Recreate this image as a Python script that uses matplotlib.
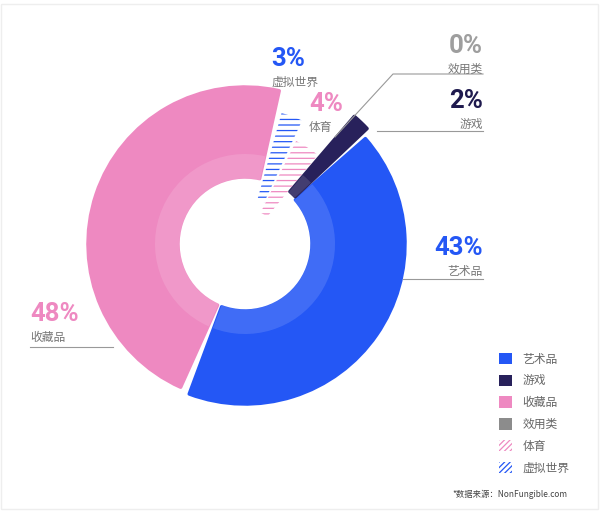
import matplotlib.pyplot as plt
from matplotlib.patches import Wedge, Patch, Rectangle

plt.rcParams['font.family'] = ['Noto Sans CJK SC', 'DejaVu Sans']

# 数据
names = ['艺术品', '游戏', '效用类', '体育', '虚拟世界', '收藏品']
shares = [43, 2, 0, 4, 3, 48]
legend_order = ['艺术品', '游戏', '收藏品', '效用类', '体育', '虚拟世界']

# 样式
colors = {'艺术品': '#2457F5', '游戏': '#28215B', '收藏品': '#EE89C1',
          '效用类': '#8C8C8C', '体育': '#EE89C1', '虚拟世界': '#2457F5'}
label_colors = {'艺术品': '#2457F5', '游戏': '#1F1A4E', '收藏品': '#EE89C1',
                '效用类': '#9E9E9E', '体育': '#EE89C1', '虚拟世界': '#2457F5'}
hatched = {'体育', '虚拟世界'}
r_out = {'艺术品': 160, '游戏': 168, '效用类': 0, '体育': 115, '虚拟世界': 136, '收藏品': 157}
r_in = {'艺术品': 67, '游戏': 69, '效用类': 0, '体育': 35, '虚拟世界': 46, '收藏品': 67}
gaps = {'艺术品': 1.6, '游戏': 0.6, '效用类': 0, '体育': 0.8, '虚拟世界': 0.8, '收藏品': 2.2}
band = 90
start = -112

W, H = 600, 513
cx, cy = 245, H - 244

fig = plt.figure(figsize=(6, 5.13), dpi=100)
ax = fig.add_axes([0, 0, 1, 1])
ax.set_xlim(0, W)
ax.set_ylim(0, H)
ax.axis('off')
plt.rcParams['hatch.linewidth'] = 0.9

a = start
for n, s in zip(names, shares):
    span = s * 3.6
    if s > 0:
        t1, t2 = a + gaps[n], a + span - gaps[n]
        if n in hatched:
            ax.add_patch(Wedge((cx, cy), r_out[n], t1, t2, width=r_out[n] - r_in[n],
                               facecolor='none', edgecolor=colors[n], lw=0, hatch='---'))
        else:
            ax.add_patch(Wedge((cx, cy), r_out[n], t1, t2, width=r_out[n] - r_in[n],
                               facecolor=colors[n], edgecolor=colors[n], lw=2.5,
                               joinstyle='round'))
            ax.add_patch(Wedge((cx, cy), band, t1 - 0.5, t2 + 0.5, width=band - r_in[n] + 1.5,
                               facecolor='white', alpha=0.13, lw=0))
    a += span

# 标注
def label(x, y, pct, name, ha):
    ax.text(x, H - y, f'{pct}%', ha=ha, va='baseline', fontsize=18.5, fontweight='bold',
            family='Roboto', color=label_colors[name])
    ax.text(x, H - y - 20, name, ha=ha, va='baseline', fontsize=8.5, color='#777777')

label(271, 66, 3, '虚拟世界', 'left')
label(309, 111, 4, '体育', 'left')
label(483, 53, 0, '效用类', 'right')
label(483, 108, 2, '游戏', 'right')
label(483, 255, 43, '艺术品', 'right')
label(30, 321, 48, '收藏品', 'left')

lc = '#999999'
ax.plot([483, 393, 335], [H - 74, H - 74, H - 137], color=lc, lw=0.8)
ax.plot([483, 377], [H - 131, H - 131], color=lc, lw=0.8)
ax.plot([483, 403], [H - 279, H - 279], color=lc, lw=0.8)
ax.plot([30, 113], [H - 347, H - 347], color=lc, lw=0.8)

# 图例
handles = []
for n in legend_order:
    if n in hatched:
        handles.append(Patch(facecolor='white', edgecolor=colors[n], lw=0, hatch='//////'))
    else:
        handles.append(Patch(facecolor=colors[n], edgecolor='none'))
leg = ax.legend(handles, legend_order, loc='upper left', bbox_to_anchor=(0.822, 0.324),
                frameon=False, fontsize=8.5, handlelength=1.1, handleheight=1.1,
                labelspacing=0.74, handletextpad=0.9, borderpad=0)
for t in leg.get_texts():
    t.set_color('#666666')

ax.text(567, H - 497, '*数据来源：NonFungible.com', ha='right', fontsize=6, color='#444444')

ax.add_patch(Rectangle((0.5, 4), 597, 505, facecolor='none', edgecolor='#eeeeee', lw=1))

fig.savefig('out.png', dpi=100)
